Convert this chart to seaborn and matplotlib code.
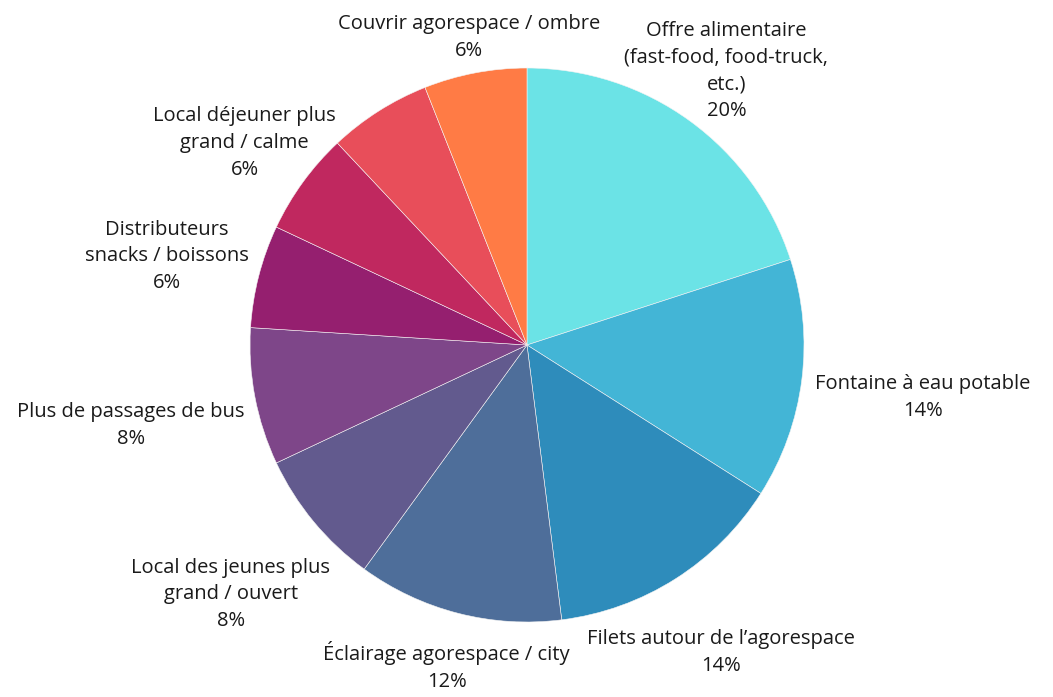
import matplotlib
matplotlib.use("Agg")
import matplotlib.pyplot as plt
import seaborn as sns
import numpy as np

sns.set_theme(style="white")
plt.rcParams['font.family'] = ['Open Sans', 'DejaVu Sans']

# Data (clockwise from 12 o'clock); one 6% slice has no visible label in the original
labels = [
    "Offre alimentaire\n(fast-food, food-truck,\netc.)",
    "Fontaine à eau potable",
    "Filets autour de l\u2019agorespace",
    "Éclairage agorespace / city",
    "Local des jeunes plus\ngrand / ouvert",
    "Plus de passages de bus",
    "Distributeurs\nsnacks / boissons",
    "Local déjeuner plus\ngrand / calme",
    "",
    "Couvrir agorespace / ombre",
]
values = [20, 14, 14, 12, 8, 8, 6, 6, 6, 6]
colors = ["#6BE3E6", "#43B5D6", "#2E8CBB", "#4E6E9A", "#625A8E",
          "#7E4689", "#951F6F", "#C0285F", "#E84E5A", "#FF7B45"]

# label centres (axes data units, radius = 1)
label_pos = [(0.72, 0.99), (1.43, -0.19), (0.70, -1.11), (-0.29, -1.16),
             (-1.07, -0.90), (-1.43, -0.29), (-1.30, 0.32), (-1.02, 0.73),
             None, (-0.21, 1.11)]

W, H = 1053, 697
fig = plt.figure(figsize=(W / 100, H / 100), dpi=100)
cx, cy, r = 527, 345, 277
ax = fig.add_axes([(cx - r) / W, (H - cy - r) / H, 2 * r / W, 2 * r / H])

wedges, _ = ax.pie(values, colors=colors, startangle=90, counterclock=False,
                   wedgeprops=dict(linewidth=0.4, edgecolor="#f4f4f4"))
ax.set_xlim(-1, 1)
ax.set_ylim(-1, 1)
ax.axis("off")

total = sum(values)
for lab, v, pos in zip(labels, values, label_pos):
    if pos is None:
        continue
    ax.text(pos[0], pos[1], f"{lab}\n{v / total * 100:.0f}%", ha="center", va="center",
            fontsize=14.5, color="#1a1a1a", linespacing=1.45, clip_on=False)

fig.savefig("out.png", dpi=100, facecolor="white")
